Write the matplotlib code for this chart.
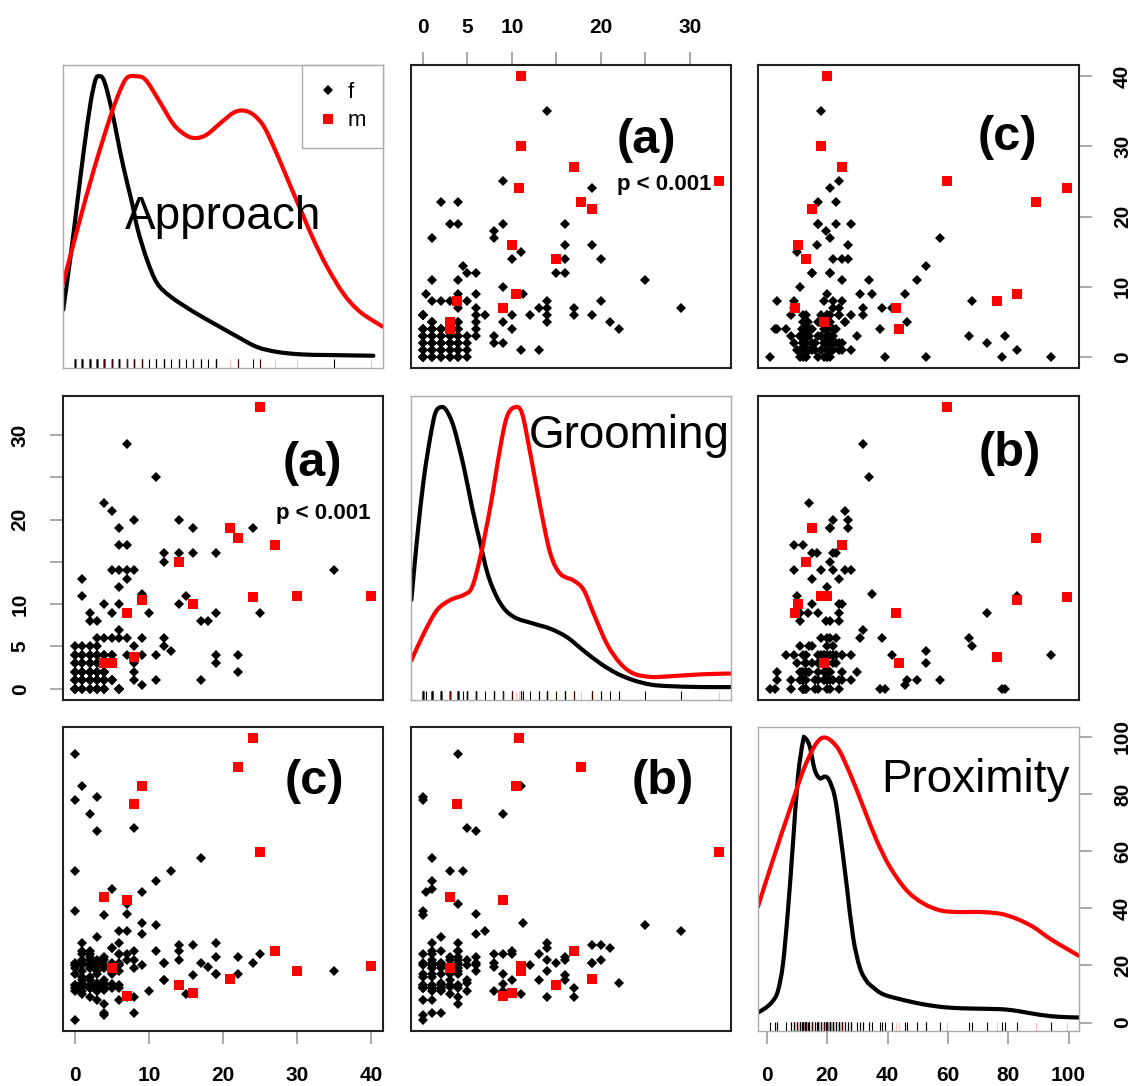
import numpy as np
import matplotlib
matplotlib.use('Agg')
import matplotlib.pyplot as plt
from matplotlib.lines import Line2D
from matplotlib.path import Path
from matplotlib.patches import PathPatch

plt.rcParams['font.family'] = ['Liberation Sans', 'DejaVu Sans']

# group m (red squares)
m_approach = [40, 30, 27, 25, 24, 22, 21, 16, 14, 9, 8, 7, 7, 5, 4]
m_grooming = [11, 11, 17, 33.3, 10.8, 17.8, 19, 10, 15, 10.5, 3.8, 9, 9, 3, 3]
m_proximity = [19.9, 17.9, 25, 59.8, 99.5, 89.3, 15.1, 10.2, 13.1, 82.9, 76.4, 42.9, 9.3, 19, 43.9]

# group f (black diamonds), same order in the three lists
f_approach = [0, 0, 0, 0, 0, 0, 0, 0, 0,
              1, 1, 1, 1, 1, 1, 1, 1,
              2, 2, 2, 2, 2, 2, 2, 2,
              3, 3, 3, 3, 3, 3, 3, 3,
              4, 4, 4, 4, 4, 4, 4, 4,
              5, 5, 5, 5, 5, 5,
              6, 6, 6, 6, 6, 6, 6, 6,
              7, 7, 7, 7, 7, 7,
              8, 8, 8, 8, 8, 8,
              9, 9, 9, 9, 10,
              11, 11, 11, 12, 12, 12, 12, 13,
              14, 14, 14, 15, 16, 16, 17, 17, 18,
              19, 19, 19, 19, 22, 22, 24, 25, 35,
              0, 0, 0, 0, 0,
              1, 1, 1, 1, 1, 1, 1,
              2, 2, 2, 2, 2, 2, 2, 2,
              3, 3, 3, 3, 3, 3, 3, 3,
              4, 4, 4, 4, 4, 4,
              5, 5, 5, 6, 6, 6]
f_grooming = [0, 0, 0, 0, 1, 2, 3, 4, 5,
              0, 1, 2, 3, 4, 5, 11, 13,
              0, 1, 2, 3, 4, 5, 8, 9,
              0, 1, 2, 3, 4, 5, 6, 8,
              0, 0, 1, 2, 4, 6, 10, 22,
              1, 4, 6, 9, 14, 21,
              0, 6, 7, 10, 12, 14, 17, 19,
              4, 6, 13, 14, 17, 29,
              1, 2, 3, 5, 14, 20,
              0.4, 4, 6, 11.2, 9,
              1, 4, 25, 5, 6, 15, 16, 4.5,
              10, 16, 20, 11, 16, 19, 1, 8, 8,
              3, 4, 9, 16, 2, 4, 19, 9, 14,
              1, 2, 3, 1, 4,
              0, 1, 2, 3, 2, 4, 1,
              0, 1, 2, 3, 1, 2, 4, 3,
              0, 1, 2, 3, 2, 1, 4, 0,
              1, 2, 0, 1, 2, 4,
              1, 4, 1, 0, 0, 0]
f_proximity = [78, 39, 1, 13, 17, 20, 52.9, 94, 11,
               16, 28, 21, 10, 25, 14, 82.9, 15,
               12, 19, 25, 15, 9, 22, 24, 72.9,
               79, 8, 30, 18, 13, 20, 67, 11,
               37.6, 2.7, 3.5, 12, 6.5, 23, 15, 14,
               46.6, 17, 20, 13.5, 26, 26,
               8, 18, 32, 24, 20, 28, 12, 21,
               41.5, 38, 24, 22, 9, 32,
               25, 3.5, 19, 68, 9, 22,
               45.7, 20, 31, 35, 11,
               49.6, 25, 34, 15, 21, 21, 15, 52.9,
               25, 22, 27, 10, 16.5, 27, 57.5, 21, 19.5,
               17, 28, 17, 23, 17, 23, 21, 24, 18,
               12, 21, 13, 20, 19,
               12.5, 20, 13, 22, 11, 18, 24,
               21, 12, 13, 20, 16, 19, 12, 23,
               12, 21, 14, 12.5, 20, 11, 22, 17,
               13, 20, 12, 22, 11.5, 19,
               12, 21, 19, 13, 20, 24]

# density curves on the diagonal (value, curve height)
approach_dens_x_f = [-1.57, -0.58, 0.32, 1.22, 2.12, 2.79, 3.24, 3.78, 4.36, 5.26,
                     6.16, 7.06, 7.73, 8.5, 9.75, 11.1, 12.9, 16.04, 19.19, 21.88,
                     24.58, 27.27, 30.42, 34.01, 40.3]
approach_dens_y_f = [6.7, 14.3, 21.9, 29.5, 36.2, 39.5, 40.0, 39.7, 37.9, 33.8,
                     29.0, 24.8, 21.9, 18.1, 13.8, 10.5, 8.6, 6.4, 4.5, 2.9,
                     1.4, 0.7, 0.35, 0.25, 0.15]
approach_dens_x_m = [-1.57, 0.32, 2.57, 4.81, 6.16, 7.06, 8.18, 9.53, 11.55, 13.35,
                     15.14, 16.49, 17.84, 19.64, 21.43, 22.78, 24.13, 25.48, 26.82,
                     28.17, 29.52, 30.87, 32.22, 34.01, 36.26, 38.51, 41.56]
approach_dens_y_m = [10.5, 18.1, 26.7, 34.3, 38.1, 39.8, 40.0, 39.5, 36.2, 33.1,
                     31.5, 31.2, 31.7, 33.3, 34.8, 35.1, 34.5, 32.9, 30.0,
                     26.7, 23.3, 20.0, 16.7, 12.9, 9.0, 6.4, 4.3]

grooming_dens_x_f = [-1.29, -0.66, 0.09, 0.84, 1.40, 1.97, 2.6, 3.46, 4.59, 5.52,
                     6.46, 7.40, 8.71, 10.21, 12.45, 14.33, 16.2, 18.07, 19.94,
                     21.82, 23.69, 25.56, 27.43, 31.18, 34.55]
grooming_dens_y_f = [10.5, 17.6, 24.7, 29.8, 32.6, 33.3, 33.0, 31.0, 26.3, 21.5,
                     17.2, 13.2, 10.1, 8.5, 7.7, 7.1, 6.1, 4.5, 3.0,
                     1.8, 1.0, 0.5, 0.32, 0.2, 0.2]
grooming_dens_x_m = [-1.29, 0.09, 1.59, 3.09, 4.59, 5.52, 6.46, 7.58, 8.71, 9.46,
                     10.32, 11.14, 12.08, 13.2, 14.33, 15.45, 16.95, 18.07, 19.19,
                     20.69, 22.19, 23.69, 25.56, 27.43, 31.18, 34.55]
grooming_dens_y_m = [3.35, 6.5, 9.3, 10.5, 11.1, 12.0, 15.6, 21.5, 28.6, 32.2,
                     33.3, 32.6, 27.8, 21.5, 16.0, 13.6, 12.8, 11.7, 8.9,
                     5.3, 3.0, 1.8, 1.4, 1.45, 1.7, 1.8]

proximity_dens_x_f = [-2.98, -0.21, 2.0, 3.67, 5.33, 6.99, 8.65, 10.31, 11.97, 12.75,
                      14.19, 15.85, 17.51, 19.17, 20.61, 22.49, 24.15, 26.37, 28.58,
                      30.8, 33.01, 35.23, 38.55, 44.09, 51.84, 59.59, 68.45, 77.31,
                      82.85, 90.6, 97.24, 103.33]
proximity_dens_y_f = [3.5, 5.3, 7.6, 11.1, 20.5, 39.3, 62.7, 86.1, 98.5, 99.5,
                      96.7, 88.5, 85.5, 86.1, 84.9, 79.1, 67.4, 48.7, 29.9,
                      19.3, 14.6, 12.3, 9.9, 8.2, 6.4, 5.3, 4.9, 4.7,
                      4.1, 2.7, 2.0, 1.8]
proximity_dens_x_m = [-2.98, 2.0, 7.54, 13.08, 18.06, 23.05, 27.48, 31.91, 36.33,
                      40.76, 46.3, 51.84, 57.37, 62.91, 70.66, 77.31, 82.85, 88.38,
                      93.92, 99.45, 103.33]
proximity_dens_y_m = [40.5, 56.9, 74.4, 90.9, 99.5, 96.7, 87.3, 75.6, 63.9,
                      54.5, 46.3, 41.7, 39.3, 38.7, 38.7, 38.1, 36.3, 33.4,
                      29.3, 25.8, 23.4]

names = ['Approach', 'Grooming', 'Proximity']
f_data = [np.array(f_approach), np.array(f_grooming), np.array(f_proximity)]
m_data = [np.array(m_approach), np.array(m_grooming), np.array(m_proximity)]
dens_f = [(approach_dens_x_f, approach_dens_y_f), (grooming_dens_x_f, grooming_dens_y_f),
          (proximity_dens_x_f, proximity_dens_y_f)]
dens_m = [(approach_dens_x_m, approach_dens_y_m), (grooming_dens_x_m, grooming_dens_y_m),
          (proximity_dens_x_m, proximity_dens_y_m)]

ticks = [[0, 10, 20, 30, 40],
         [0, 5, 10, 15, 20, 25, 30],
         [0, 20, 40, 60, 80, 100]]
tick_labels = [['0', '10', '20', '30', '40'],
               ['0', '5', '10', '', '20', '', '30'],
               ['0', '20', '40', '60', '80', '100']]

panel_labels = {(0, 1): '(a)', (1, 0): '(a)', (1, 2): '(b)', (2, 1): '(b)',
                (0, 2): '(c)', (2, 0): '(c)'}
label_pos = {(0, 1): (0.737, 0.75), (1, 0): (0.78, 0.779), (0, 2): (0.776, 0.761),
             (1, 2): (0.785, 0.81), (2, 0): (0.787, 0.82), (2, 1): (0.786, 0.82)}
p_pos = {(0, 1): (0.79, 0.604), (1, 0): (0.8125, 0.614)}


def smooth_path(xs, ys):
    # Catmull-Rom through the read points, drawn as cubic Bezier segments
    p = np.column_stack([xs, ys]).astype(float)
    p = np.vstack([p[0], p, p[-1]])
    verts = [p[1]]
    codes = [Path.MOVETO]
    for k in range(1, len(p) - 2):
        c1 = p[k] + (p[k + 1] - p[k - 1]) / 6.0
        c2 = p[k + 1] - (p[k + 2] - p[k]) / 6.0
        verts += [c1, c2, p[k + 1]]
        codes += [Path.CURVE4] * 3
    return Path(verts, codes)


W, H = 1135, 1086
fig = plt.figure(figsize=(W / 100, H / 100), dpi=100)
lefts = [63, 411, 758]
widths = [320, 320, 321]
tops = [65, 396, 727]
heights = [303, 304, 304]

lims = []
for k in range(3):
    allv = np.concatenate([f_data[k], m_data[k]])
    lo, hi = allv.min(), allv.max()
    pad = 0.04 * (hi - lo)
    lims.append((lo - pad, hi + pad))

tick_style = dict(length=9.5, width=1.2, color='#999999')
lab_font = dict(fontsize=15, fontweight='bold')

for i in range(3):
    for j in range(3):
        ax = fig.add_axes([lefts[j] / W, (H - tops[i] - heights[i]) / H,
                           widths[j] / W, heights[i] / H])
        ax.set_xlim(lims[j])
        ax.set_ylim(lims[i])
        ax.set_xticks([])
        ax.set_yticks([])
        if i == j:
            for (dx, dy), col in [(dens_f[i], 'black'), (dens_m[i], 'red')]:
                ax.add_patch(PathPatch(smooth_path(dx, dy), fill=False,
                                       edgecolor=col, lw=3, capstyle='round'))
            ax.vlines(f_data[i], 0, 0.03, transform=ax.get_xaxis_transform(),
                      color='black', lw=0.8)
            ax.vlines(m_data[i], 0, 0.03, transform=ax.get_xaxis_transform(),
                      color='red', lw=0.8, alpha=0.25)
            for s in ax.spines.values():
                s.set_color('#aaaaaa')
                s.set_linewidth(1)
        else:
            ax.plot(f_data[j], f_data[i], ls='none', marker='D', ms=4.8,
                    color='black', mew=0)
            ax.plot(m_data[j], m_data[i], ls='none', marker='s', ms=7.2,
                    color='red', mew=0)
            for s in ax.spines.values():
                s.set_color('#222222')
                s.set_linewidth(1.5)
            px, py = label_pos[(i, j)]
            ax.text(px, py, panel_labels[(i, j)], transform=ax.transAxes,
                    ha='center', va='center', fontsize=35, fontweight='bold')
            if (i, j) in p_pos:
                qx, qy = p_pos[(i, j)]
                ax.text(qx, qy, 'p < 0.001', transform=ax.transAxes,
                        ha='center', va='center', fontsize=16, fontweight='bold')

        # pairs-style alternating axes
        if i == 0 and j % 2 == 1:
            ax.set_xticks(ticks[j], tick_labels[j], **lab_font)
            ax.tick_params(axis='x', top=True, bottom=False, labeltop=True,
                           labelbottom=False, pad=11, **tick_style)
        if i == 2 and j % 2 == 0:
            ax.set_xticks(ticks[j], tick_labels[j], **lab_font)
            ax.tick_params(axis='x', pad=16, **tick_style)
        if j == 0 and i % 2 == 1:
            ax.set_yticks(ticks[i], tick_labels[i], rotation=90, va='center', **lab_font)
            ax.tick_params(axis='y', pad=14.5, **tick_style)
        if j == 2 and i % 2 == 0:
            ax.set_yticks(ticks[i], tick_labels[i], rotation=90, va='center', **lab_font)
            ax.tick_params(axis='y', left=False, right=True, labelleft=False,
                           labelright=True, pad=15, **tick_style)

        if i == j:
            if i == 0:
                ax.text(0.5, 0.459, names[i], transform=ax.transAxes,
                        ha='center', va='baseline', fontsize=33)
                handles = [Line2D([], [], ls='none', marker='D', ms=4.8,
                                  color='black', mew=0, label='f'),
                           Line2D([], [], ls='none', marker='s', ms=7.2,
                                  color='red', mew=0, label='m')]
                leg = ax.legend(handles=handles, loc='upper right',
                                borderaxespad=0, fontsize=16, fancybox=False,
                                edgecolor='#aaaaaa', framealpha=1,
                                handlelength=0.8, handletextpad=0.5,
                                borderpad=0.75, labelspacing=0.35)
                leg.get_frame().set_linewidth(1)
            elif i == 1:
                ax.text(0.997, 0.828, names[i], transform=ax.transAxes,
                        ha='right', va='baseline', fontsize=33)
            else:
                ax.text(0.972, 0.787, names[i], transform=ax.transAxes,
                        ha='right', va='baseline', fontsize=33)

fig.savefig('out.png', dpi=100)
